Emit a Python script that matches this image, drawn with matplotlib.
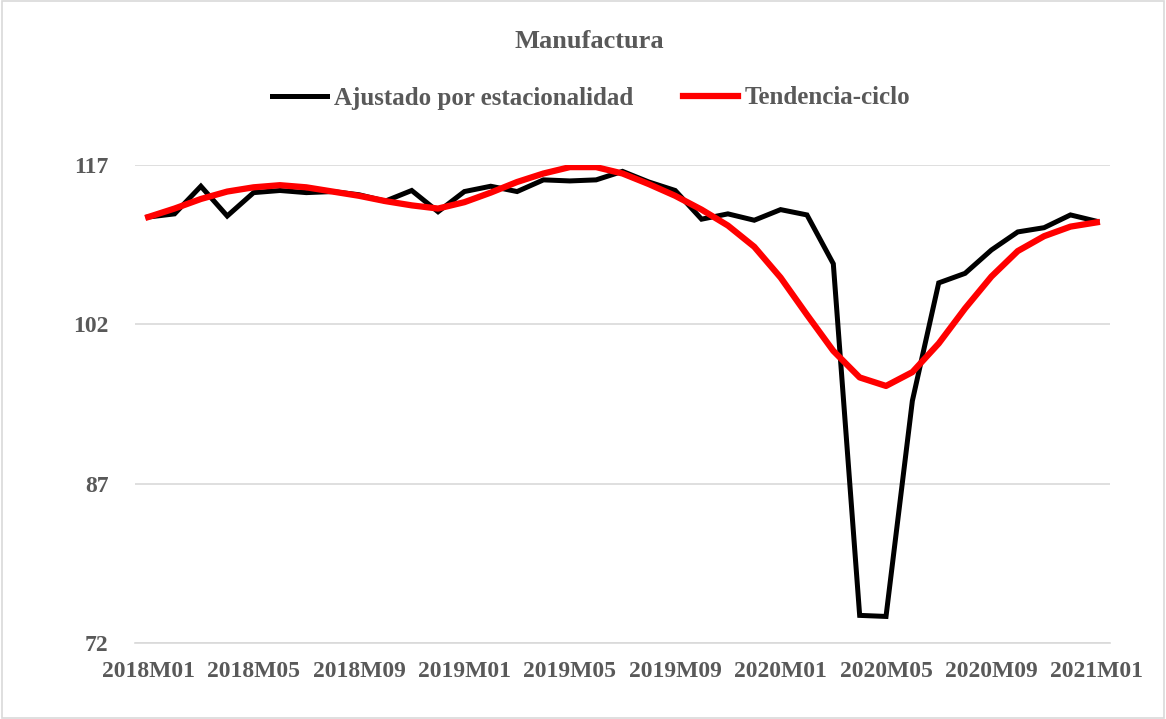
import matplotlib
matplotlib.use("Agg")
import matplotlib.pyplot as plt
from matplotlib.patches import Rectangle

months = ["2018M01","2018M02","2018M03","2018M04","2018M05","2018M06","2018M07","2018M08","2018M09","2018M10","2018M11","2018M12",
          "2019M01","2019M02","2019M03","2019M04","2019M05","2019M06","2019M07","2019M08","2019M09","2019M10","2019M11","2019M12",
          "2020M01","2020M02","2020M03","2020M04","2020M05","2020M06","2020M07","2020M08","2020M09","2020M10","2020M11","2020M12",
          "2021M01"]
ajustado = [112.1, 112.4, 115.0, 112.2, 114.4, 114.6, 114.4, 114.5, 114.2, 113.6, 114.6, 112.6,
            114.5, 115.0, 114.5, 115.6, 115.5, 115.6, 116.4, 115.4, 114.6, 111.9, 112.4, 111.8,
            112.8, 112.3, 107.7, 74.6, 74.5, 94.8, 105.9, 106.8, 109.0, 110.7, 111.1, 112.3,
            111.7]
tendencia = [112.1, 112.9, 113.8, 114.5, 114.9, 115.1, 114.9, 114.5, 114.1, 113.6, 113.2, 112.9,
             113.5, 114.4, 115.4, 116.2, 116.8, 116.8, 116.2, 115.2, 114.1, 112.8, 111.3, 109.3,
             106.4, 102.9, 99.5, 97.0, 96.2, 97.5, 100.2, 103.5, 106.5, 108.9, 110.3, 111.2,
             111.6]
yticks = [72, 87, 102, 117]
title = "Manufactura"
labels = ["Ajustado por estacionalidad", "Tendencia-ciclo"]

txt = "#595959"
fam = ["Liberation Serif", "DejaVu Serif"]
plt.rcParams["font.family"] = fam
plt.rcParams["font.weight"] = "bold"

fig = plt.figure(figsize=(11.66, 7.19), dpi=100)
fig.patches.append(Rectangle((0.002, 0.002), 0.996, 0.996, transform=fig.transFigure,
                             fill=False, edgecolor="#d9d9d9", linewidth=1.2))
ax = fig.add_axes([135/1166, 1-643/719, (1110-135)/1166, (643-165)/719])

x = list(range(len(months)))
ax.plot(x, ajustado, color="black", linewidth=3.6, solid_joinstyle="miter", label=labels[0], zorder=3)
ax.plot(x, tendencia, color="#ff0000", linewidth=4.5, solid_joinstyle="round", label=labels[1], zorder=4)

ax.set_xlim(-0.5, len(months) - 0.5)
ax.set_ylim(72, 117)
ax.set_yticks(yticks)
ax.set_yticklabels([str(v) for v in yticks])
ax.set_xticks(x[::4])
ax.set_xticklabels(months[::4])
ax.grid(axis="y", color="#d9d9d9", linewidth=1.2)
ax.set_axisbelow(True)
for s in ["top", "right", "left"]:
    ax.spines[s].set_visible(False)
ax.spines["bottom"].set_color("#d9d9d9")
ax.spines["bottom"].set_linewidth(1.2)
ax.tick_params(axis="both", length=0, labelsize=17, labelcolor=txt)
ax.tick_params(axis="x", pad=13)
ax.tick_params(axis="y", pad=19)

fig.text(0.505, 1-42/719, title, ha="center", va="center", fontsize=19, color=txt, fontweight="bold")
fig.legend(loc="center", bbox_to_anchor=(0.507, 1-98/719), ncol=2, frameon=False,
           fontsize=18, handlelength=2.2, columnspacing=2.0, handletextpad=0.25,
           labelcolor=txt)

fig.savefig("out.png", dpi=100)
